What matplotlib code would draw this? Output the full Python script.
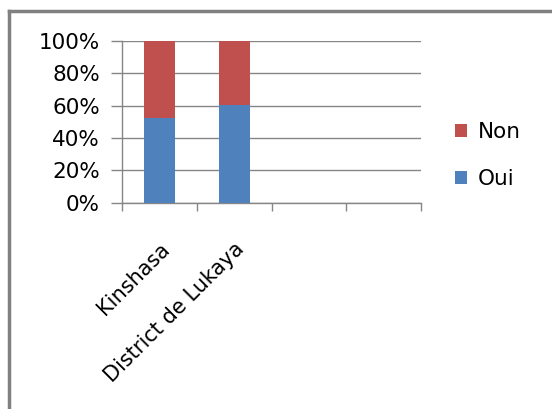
import numpy as np
import matplotlib.pyplot as plt
from matplotlib.lines import Line2D

regions = ['Kinshasa', 'District de Lukaya', '', '']
oui = [52.5, 60.5]
non = [47.5, 39.5]

blue = '#4F81BD'
red = '#C0504D'
grey = '#868686'

plt.rcParams['font.family'] = ['DejaVu Sans']

fig = plt.figure(figsize=(5.52, 4.09), dpi=100)
ax = fig.add_axes([0.221, 0.504, 0.542, 0.396])

x = np.arange(len(oui))
b1 = ax.bar(x, oui, width=0.41, color=blue, label='Oui', zorder=3)
b2 = ax.bar(x, non, width=0.41, bottom=oui, color=red, label='Non', zorder=3)

ax.set_xlim(-0.5, len(regions) - 0.5)
ax.set_ylim(0, 100)
ax.set_yticks(range(0, 101, 20))
ax.set_yticklabels([f'{v}%' for v in range(0, 101, 20)], fontsize=15.5)
ax.yaxis.grid(True, color=grey, linewidth=1, zorder=0)

ax.set_xticks(range(len(regions)))
ax.set_xticklabels(regions, fontsize=15, rotation=45, ha='right',
                   rotation_mode='anchor')
ax.set_xticks(np.arange(-0.5, len(regions), 1), minor=True)
ax.tick_params(axis='x', which='major', length=0, pad=26)
ax.tick_params(axis='x', which='minor', length=6, color=grey, width=1)
ax.tick_params(axis='y', length=8, color=grey, width=1, pad=8)

for s in ['top', 'right']:
    ax.spines[s].set_visible(False)
for s in ['left', 'bottom']:
    ax.spines[s].set_color(grey)
    ax.spines[s].set_linewidth(1)

fig.legend([b2, b1], ['Non', 'Oui'], loc='center left',
           bbox_to_anchor=(0.79, 0.62), frameon=False, fontsize=15.5,
           handlelength=0.55, handleheight=0.55, handletextpad=0.5,
           labelspacing=1.25)

# frame of the picture (left and top edges only)
fig.add_artist(Line2D([0.017, 0.017], [0, 0.973], color='#808080', lw=2.5,
                      transform=fig.transFigure))
fig.add_artist(Line2D([0.017, 1], [0.973, 0.973], color='#808080', lw=2.5,
                      transform=fig.transFigure))

fig.savefig('out.png', dpi=100)
